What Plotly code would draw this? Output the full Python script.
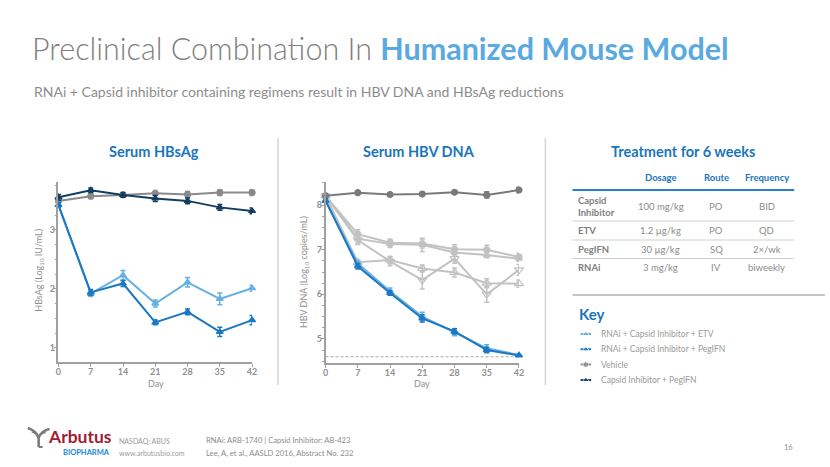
import plotly.graph_objects as go

W, H = 830, 467
FONT = "Lato"

days = [0, 7, 14, 21, 28, 35, 42]

# ---- Serum HBsAg (log10 IU/mL)
hbs_etv = [3.42, 1.92, 2.23, 1.75, 2.11, 1.83, 2.01]
hbs_etv_err = [0.04, 0.05, 0.08, 0.06, 0.08, 0.10, 0.05]
hbs_peg = [3.42, 1.94, 2.09, 1.43, 1.61, 1.27, 1.47]
hbs_peg_err = [0.04, 0.05, 0.05, 0.04, 0.05, 0.08, 0.08]
hbs_veh = [3.49, 3.57, 3.59, 3.62, 3.60, 3.63, 3.63]
hbs_veh_err = [0.04, 0.04, 0.03, 0.03, 0.05, 0.05, 0.05]
hbs_cap = [3.55, 3.67, 3.59, 3.53, 3.49, 3.38, 3.32]
hbs_cap_err = [0.05, 0.04, 0.04, 0.05, 0.05, 0.05, 0.05]

# ---- Serum HBV DNA (log10 copies/mL)
dna_etv = [8.10, 6.69, 6.07, 5.50, 5.15, 4.79, 4.64]
dna_etv_err = [0.05, 0.06, 0.07, 0.10, 0.08, 0.08, 0.02]
dna_peg = [8.10, 6.63, 6.03, 5.46, 5.17, 4.75, 4.63]
dna_peg_err = [0.05, 0.06, 0.05, 0.08, 0.06, 0.06, 0.02]
dna_veh = [8.21, 8.28, 8.24, 8.25, 8.29, 8.23, 8.34]
dna_veh_err = [0.03, 0.03, 0.03, 0.03, 0.03, 0.07, 0.06]
dna_g1 = [8.21, 7.35, 7.16, 7.14, 7.01, 7.00, 6.84]
dna_g1_err = [0.03, 0.10, 0.08, 0.10, 0.10, 0.10, 0.08]
dna_g2 = [8.21, 7.25, 7.13, 7.11, 6.94, 6.88, 6.80]
dna_g2_err = [0.03, 0.10, 0.08, 0.15, 0.08, 0.06, 0.06]
dna_g3 = [8.21, 6.72, 6.77, 6.58, 6.49, 6.25, 6.24]
dna_g3_err = [0.03, 0.05, 0.08, 0.08, 0.10, 0.10, 0.08]
dna_g4 = [8.21, 7.22, 6.74, 6.32, 6.80, 6.00, 6.55]
dna_g4_err = [0.03, 0.10, 0.10, 0.20, 0.10, 0.18, 0.12]
lloq = 4.60

# ---- Key
key_names = ["RNAi + Capsid Inhibitor + ETV", "RNAi + Capsid Inhibitor + PegIFN",
             "Vehicle", "Capsid Inhibitor + PegIFN"]
key_colors = ["#64b0e4", "#1b78c4", "#8a8a8a", "#123e62"]
key_symbols = ["triangle-up", "triangle-up", "circle", "triangle-up"]

# ---- Treatment table
tbl_header = ["Dosage", "Route", "Frequency"]
tbl_agent = ["Capsid<br>Inhibitor", "ETV", "PegIFN", "RNAi"]
tbl_dosage = ["100 mg/kg", "1.2 µg/kg", "30 µg/kg", "3 mg/kg"]
tbl_route = ["PO", "PO", "SQ", "IV"]
tbl_freq = ["BID", "QD", "2×/wk", "biweekly"]

px = lambda v: v / W
py = lambda v: 1 - v / H

fig = go.Figure()

def add_series(x, y, err, color, symbol, xa, ya, lc=None, msize=6):
    fig.add_trace(go.Scatter(
        x=x, y=y, mode="lines+markers", xaxis=xa, yaxis=ya,
        line=dict(color=lc or color, width=2),
        marker=dict(color=color, symbol=symbol, size=msize,
                    line=dict(color=color, width=1.2)),
        error_y=dict(type="data", array=err, color=color, thickness=1.5, width=2.5),
        cliponaxis=False, showlegend=False, hoverinfo="skip"))

# HBsAg chart
add_series(days, hbs_veh, hbs_veh_err, key_colors[2], "circle", "x", "y")
add_series(days, hbs_cap, hbs_cap_err, key_colors[3], "triangle-up", "x", "y")
add_series(days, hbs_etv, hbs_etv_err, key_colors[0], "triangle-up", "x", "y")
add_series(days, hbs_peg, hbs_peg_err, key_colors[1], "triangle-up", "x", "y")

# HBV DNA chart
fig.add_trace(go.Scatter(x=[0, 42], y=[lloq, lloq], mode="lines", xaxis="x2", yaxis="y2",
                         line=dict(color="#a8a8a8", width=1, dash="3px,2px"),
                         showlegend=False, hoverinfo="skip"))
gray = "#c2c2c2"
add_series(days, dna_g1, dna_g1_err, gray, "circle", "x2", "y2")
add_series(days, dna_g2, dna_g2_err, gray, "triangle-up", "x2", "y2")
add_series(days, dna_g3, dna_g3_err, gray, "triangle-up-open", "x2", "y2", msize=8)
add_series(days, dna_g4, dna_g4_err, gray, "triangle-down-open", "x2", "y2", msize=8)
add_series(days, dna_veh, dna_veh_err, "#7a7a7a", "circle", "x2", "y2")
add_series(days, dna_etv, dna_etv_err, key_colors[0], "triangle-up", "x2", "y2")
add_series(days, dna_peg, dna_peg_err, key_colors[1], "triangle-up", "x2", "y2")

# Key symbols
for i, (c, s) in enumerate(zip(key_colors, key_symbols)):
    yk = 334 + i * 15.3
    fig.add_trace(go.Scatter(x=[0, 0.5, 1], y=[yk] * 3, mode="lines+markers",
                             xaxis="x3", yaxis="y3",
                             line=dict(color=c, width=2),
                             marker=dict(color=c, symbol=s, size=[0, 6, 0]),
                             cliponaxis=False, showlegend=False, hoverinfo="skip"))

axis_common = dict(showline=True, linecolor="#a0a0a0", linewidth=1.5, ticks="outside",
                   tickcolor="#a0a0a0", ticklen=3, tickwidth=1.2, showgrid=False,
                   zeroline=False, ticklabelstandoff=-3,
                   tickfont=dict(family=FONT, size=9, color="#909090", weight="bold"))
fig.update_layout(
    width=W, height=H, margin=dict(l=0, r=0, t=0, b=0),
    paper_bgcolor="white", plot_bgcolor="white",
    xaxis=dict(domain=[px(56), px(251.5)], range=[0, 42], tickvals=days, anchor="y",
               **axis_common),
    yaxis=dict(domain=[py(362), py(182)], range=[0.76, 3.81], tickvals=[1, 2, 3],
               anchor="x", minor=dict(ticks="outside", ticklen=2, dtick=0.25,
                                      tickcolor="#a0a0a0"), **axis_common),
    xaxis2=dict(domain=[px(325.7), px(521)], range=[0, 42], tickvals=days, anchor="y2",
                **axis_common),
    yaxis2=dict(domain=[py(363), py(182)], range=[4.46, 8.52], tickvals=[5, 6, 7, 8],
                anchor="x2", minor=dict(ticks="outside", ticklen=2, dtick=0.25,
                                        tickcolor="#a0a0a0"), **axis_common),
    xaxis3=dict(domain=[px(583), px(594)], range=[0, 1], visible=False, anchor="y3"),
    yaxis3=dict(domain=[py(390), py(325)], range=[390, 325], visible=False, anchor="x3"),
)

ann = []
def A(x, y, text, size, color, xanchor="left", bold=False, weight=None, angle=0,
      yanchor="middle", align="center"):
    f = dict(family=FONT, size=size, color=color)
    if weight:
        f["weight"] = weight
    ann.append(dict(x=px(x), y=py(y), xref="paper", yref="paper",
                    text=(f"<b>{text}</b>" if bold else text), align=align,
                    showarrow=False, xanchor=xanchor, yanchor=yanchor, font=f,
                    textangle=angle))

# Titles
A(27, 48, "Preclinical Combination In <b><span style='color:#5aa9e0'>Humanized Mouse Model</span></b>",
  30.5, "#808080", weight=300)
A(29, 91, "RNAi + Capsid inhibitor containing regimens result in HBV DNA and HBsAg reductions",
  14, "#8c8c8c")
A(152, 151, "Serum HBsAg", 14.5, "#1b75bc", "center", bold=True)
A(420, 151, "Serum HBV DNA", 14.5, "#1b75bc", "center", bold=True)
A(687, 151, "Treatment for 6 weeks", 14.5, "#1b75bc", "center", bold=True)

# Axis titles
A(154, 383, "Day", 9, "#909090", "center")
A(423, 383, "Day", 9, "#909090", "center")
A(36, 270, "HBsAg (Log<sub>10</sub> IU/mL)", 9, "#909090", "center", angle=-90)
A(304, 272, "HBV DNA (Log<sub>10</sub> copies/mL)", 9, "#909090", "center", angle=-90)

# Table
col_x = [664, 720, 771]
for cx, h in zip(col_x, tbl_header):
    A(cx, 177, h, 9.5, "#1b75bc", "center", bold=True)
row_y = [206, 230.5, 249.5, 267.5]
for i, ry in enumerate(row_y):
    A(579, ry, tbl_agent[i], 9.5, "#7f7f7f", "left", bold=True, align="left")
    A(col_x[0], ry, tbl_dosage[i], 9.5, "#8c8c8c", "center")
    A(col_x[1], ry, tbl_route[i], 9.5, "#8c8c8c", "center")
    A(col_x[2], ry, tbl_freq[i], 9.5, "#8c8c8c", "center")

# Key
A(580, 314, "Key", 15, "#1b75bc", bold=True)
for i, name in enumerate(key_names):
    A(602, 334 + i * 15.3, name, 8.5, "#9a9a9a")

# Footer
A(43, 436, "Arbutus", 17.5, "#a01c34", bold=True)
A(59, 452.5, "BIOPHARMA", 7.5, "#1b86d0", bold=True)
A(115, 441, "NASDAQ: ABUS", 7, "#9a9a9a")
A(115, 453, "www.arbutusbio.com", 7, "#9a9a9a")
A(203, 440, "RNAi: ARB-1740 | Capsid Inhibitor: AB-423", 7.6, "#8c8c8c")
A(203, 453, "Lee, A, et al., AASLD 2016, Abstract No. 232", 7.6, "#8c8c8c")
A(793, 447, "16", 7.5, "#8c8c8c", "center")

shapes = []
def L(x0, y0, x1, y1, color, width):
    shapes.append(dict(type="line", xref="paper", yref="paper", x0=px(x0), y0=py(y0),
                       x1=px(x1), y1=py(y1), line=dict(color=color, width=width)))
L(277.7, 138, 277.7, 385, "#d5d5d5", 1.5)
L(547.7, 138, 547.7, 385, "#d5d5d5", 1.5)
L(575, 190, 799, 190, "#2a80c6", 2)
for yy in [221, 240, 258.5]:
    L(575, yy, 799, yy, "#d0d0d0", 1)
L(575, 295, 830, 295, "#b0b0b0", 1.5)

# Logo tree icon (approximation)
def P(path, color, width):
    shapes.append(dict(type="path", xref="paper", yref="paper", path=path,
                       line=dict(color=color, width=width)))
def pt(x, y):
    return f"{px(x)},{py(y)}"
P(f"M{pt(36,447)} L{pt(36,438)} Q{pt(34,431)} {pt(25,428)}", "#7a7a7a", 2.5)
P(f"M{pt(36,438)} Q{pt(38,431)} {pt(47,429)}", "#7a7a7a", 2.5)
P(f"M{pt(36,437)} Q{pt(32,432)} {pt(29,432)}", "#7a7a7a", 1.5)
P(f"M{pt(36,437)} Q{pt(40,432)} {pt(43,433)}", "#7a7a7a", 1.5)
P(f"M{pt(36,447)} L{pt(40,447)}", "#7a7a7a", 2)

fig.update_layout(annotations=ann, shapes=shapes)
fig.write_html("out.html", config={"displayModeBar": False},
               post_script="document.body.style.margin='0px';document.body.style.padding='0px';")
